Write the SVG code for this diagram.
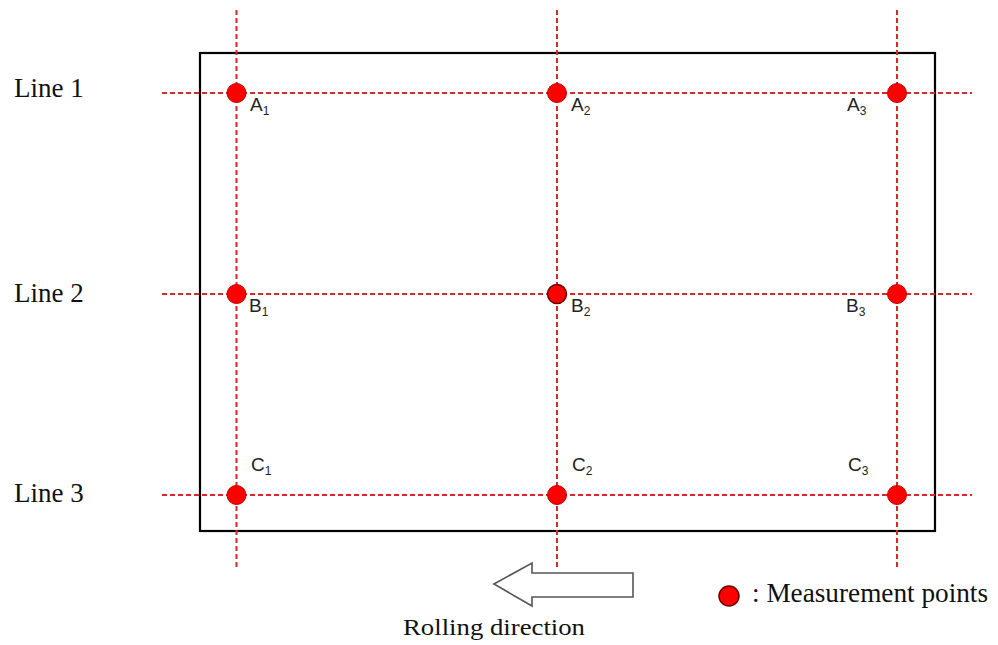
<svg xmlns="http://www.w3.org/2000/svg" width="998" height="645" viewBox="0 0 998 645">
<style>
.grid{stroke:#d42a2a;stroke-width:2;stroke-dasharray:5,3;fill:none}
.pt{fill:#ff0000;stroke:#c00000;stroke-width:1}
.lbl{font-family:"Liberation Sans",Arial,sans-serif;font-size:19px;fill:#222}
.sub{font-size:12px}
.ser{font-family:"Liberation Serif","Times New Roman",serif;font-size:27px;fill:#111}
</style>
<rect width="998" height="645" fill="#fff"/>
<g id="plate"><rect x="200" y="53" width="735" height="478" fill="none" stroke="#000" stroke-width="2.2"/></g>
<g id="connectors">
<line class="grid" x1="236.5" y1="10" x2="236.5" y2="568"/>
<line class="grid" x1="557" y1="10" x2="557" y2="568"/>
<line class="grid" x1="897" y1="10" x2="897" y2="568"/>
<line class="grid" x1="162" y1="93" x2="972" y2="93"/>
<line class="grid" x1="162" y1="294" x2="972" y2="294"/>
<line class="grid" x1="162" y1="495" x2="972" y2="495"/>
</g>
<g id="line-labels">
<text class="ser" x="14" y="97">Line 1</text>
<text class="ser" x="14" y="302">Line 2</text>
<text class="ser" x="14" y="502">Line 3</text>
</g>
<g id="A1"><circle class="pt" cx="236.5" cy="93" r="9.5"/><text class="lbl" x="250" y="111">A<tspan class="sub" dy="4">1</tspan></text></g>
<g id="A2"><circle class="pt" cx="557" cy="93" r="9.5"/><text class="lbl" x="571" y="111">A<tspan class="sub" dy="4">2</tspan></text></g>
<g id="A3"><circle class="pt" cx="897" cy="93" r="9.5"/><text class="lbl" x="847" y="111">A<tspan class="sub" dy="4">3</tspan></text></g>
<g id="B1"><circle class="pt" cx="236.5" cy="294" r="9.5"/><text class="lbl" x="249" y="312">B<tspan class="sub" dy="4">1</tspan></text></g>
<g id="B2"><circle cx="557" cy="294" r="9.5" fill="#ff0000" stroke="#600" stroke-width="1.5"/><text class="lbl" x="571" y="312">B<tspan class="sub" dy="4">2</tspan></text></g>
<g id="B3"><circle class="pt" cx="897" cy="294" r="9.5"/><text class="lbl" x="846" y="312">B<tspan class="sub" dy="4">3</tspan></text></g>
<g id="C1"><circle class="pt" cx="236.5" cy="495" r="9.5"/><text class="lbl" x="251" y="471">C<tspan class="sub" dy="4">1</tspan></text></g>
<g id="C2"><circle class="pt" cx="557" cy="495" r="9.5"/><text class="lbl" x="572" y="471">C<tspan class="sub" dy="4">2</tspan></text></g>
<g id="C3"><circle class="pt" cx="897" cy="495" r="9.5"/><text class="lbl" x="848" y="471">C<tspan class="sub" dy="4">3</tspan></text></g>
<g id="rolling-arrow">
<polygon points="494,584 532,563 532,573 633,573 633,597 532,597 532,606" fill="#fff" stroke="#555" stroke-width="1.6" stroke-linejoin="miter"/>
<text class="ser" x="403" y="635" textLength="182" lengthAdjust="spacingAndGlyphs" style="font-size:23px">Rolling direction</text>
</g>
<g id="legend">
<circle cx="729" cy="596" r="10" fill="#ff0000" stroke="#600" stroke-width="1.5"/>
<text class="ser" x="752" y="602" textLength="236" lengthAdjust="spacingAndGlyphs">: Measurement points</text>
</g>
</svg>
